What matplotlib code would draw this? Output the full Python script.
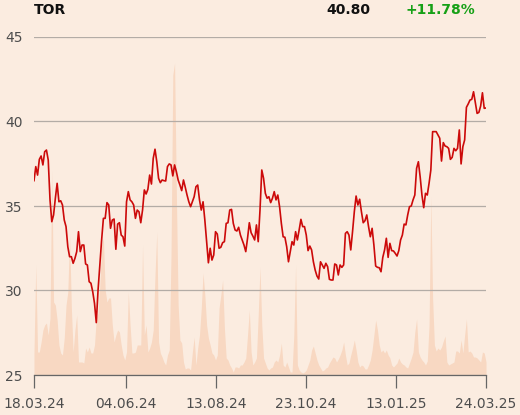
import numpy as np
import matplotlib
matplotlib.use("Agg")
import matplotlib.pyplot as plt

ticker = "TOR"
last_price = "40.80"
change = "+11.78%"

tick_labels = ["18.03.24", "04.06.24", "13.08.24", "23.10.24", "13.01.25", "24.03.25"]
tick_fracs = [0.0, 0.2035, 0.4027, 0.6018, 0.8009, 1.0]
y_ticks = [25, 30, 35, 40, 45]

price = [
    36.50, 37.33, 36.83, 37.76, 37.96, 37.43, 38.21, 38.31, 37.72, 35.36,
    34.07, 34.47, 35.46, 36.34, 35.25, 35.31, 35.06, 34.17, 33.78, 32.59,
    32.00, 32.00, 31.61, 31.90, 32.30, 33.48, 32.30, 32.69, 32.69, 31.57,
    31.51, 30.52, 30.43, 29.93, 29.24, 28.10, 30.03, 31.51, 32.99, 34.27,
    34.27, 35.20, 35.06, 33.68, 34.17, 34.23, 32.44, 33.93, 34.01, 33.28,
    33.18, 32.63,
    35.25, 35.85, 35.36, 35.25, 35.06, 34.27, 34.76, 34.66, 34.01, 34.76,
    35.95, 35.71, 35.99, 36.83, 36.30, 37.82, 38.36, 37.62, 36.64, 36.38,
    36.54, 36.50, 36.48, 37.33, 37.49, 37.43, 36.78, 37.43, 37.03, 36.54,
    36.24, 35.91, 36.54, 36.11, 35.65, 35.25, 34.96, 35.25, 35.55, 36.14,
    36.24, 35.36, 34.76, 35.25, 34.17, 32.89, 31.64, 32.50, 31.80,
    32.10, 33.48, 33.34, 32.50, 32.56, 32.83, 32.89, 33.97, 34.01, 34.76,
    34.80, 33.97, 33.58, 33.52, 33.74, 33.28, 32.99, 32.69, 32.30, 33.09,
    34.01, 33.42, 33.22, 32.99, 33.88, 32.89, 34.76, 37.13, 36.64, 35.75,
    35.46, 35.55, 35.20, 35.46, 35.85, 35.36, 35.65, 34.96, 33.97, 33.18,
    33.15, 32.59, 31.70, 32.30, 32.89, 32.69, 33.48, 32.99, 33.58, 34.21,
    33.78, 33.78,
    33.28, 32.36, 32.63, 32.40, 31.70, 31.21, 30.86, 30.68, 31.70, 31.51,
    31.31, 31.61, 31.41, 30.66, 30.62, 30.62, 31.57, 31.51, 30.92, 31.51,
    31.37, 31.51, 33.38, 33.48, 33.28, 32.40, 33.48, 34.66, 35.59, 35.06,
    35.40, 34.66, 34.01, 34.13, 34.47, 33.78, 33.18, 33.68, 32.69, 31.45,
    31.37, 31.35, 31.11, 31.96, 32.40, 33.09, 31.96, 32.79, 32.36, 32.34,
    32.20, 32.04, 32.36, 32.99,
    33.28, 33.93, 33.88, 34.47, 34.96, 35.00, 35.36, 35.65, 37.23, 37.62,
    36.73, 35.65, 34.90, 35.75, 35.65, 36.34, 37.13, 39.40, 39.40, 39.40,
    39.20, 39.01, 37.66, 38.75, 38.55, 38.51, 38.41, 37.76, 37.88, 38.41,
    38.27, 38.41, 39.50, 37.49, 38.51, 38.91, 40.84, 41.04, 41.27, 41.31,
    41.76, 41.11, 40.48, 40.54, 40.92, 41.70, 40.78, 40.80,
]

volume = [
    23, 110, 23, 23, 33, 45, 50, 52, 40, 57,
    205, 73, 70, 55, 30, 22, 20, 37, 70, 83,
    140, 67, 23, 45, 60, 13, 13, 13, 12, 27,
    23, 28, 22, 22, 30, 57, 62, 90, 130, 137,
    85, 73, 77, 77, 50, 33, 40, 45, 43, 30,
    20, 15, 23, 83, 50, 22, 22, 23, 30, 30,
    30, 130, 40, 50, 23, 27, 33, 45, 100, 143,
    33, 22, 18, 13, 10, 20, 25, 120, 300, 312,
    182, 70, 35, 32, 13, 6, 7, 7, 5, 23,
    38, 10, 27, 40, 67, 102, 80, 50, 37, 30,
    22, 20, 15, 20, 67, 80, 95, 47, 17, 15,
    10, 7, 3, 8, 8, 7, 10, 10, 13, 17,
    40, 65, 23, 10, 13, 17, 60, 108, 50, 17,
    12, 7, 5, 7, 8, 13, 15, 13, 20, 32,
    10, 8, 13, 8, 3, 3, 40, 110, 10, 5,
    3, 2, 3, 5, 10, 15, 25, 29, 22, 15,
    10, 7, 4, 5, 7, 8, 12, 15, 18, 17,
    13, 16, 20, 25, 33, 20, 10, 12, 20, 27,
    35, 25, 13, 8, 10, 9, 6, 6, 10, 15,
    25, 40, 55, 45, 30, 23, 25, 22, 25, 20,
    17, 10, 8, 10, 12, 17, 13, 11, 10, 8,
    7, 12, 17, 23, 43, 56, 23, 18, 15, 13,
    10, 14, 50, 178, 77, 30, 24, 27, 25, 28,
    34, 39, 13, 10, 11, 12, 13, 24, 24, 22,
    35, 22, 40, 56, 23, 24, 22, 18, 18, 17,
    15, 13, 23, 22, 13,
]

bg = "#fbece0"
line_red = "#cc0a0a"
vol_color = "#f8d8c2"
grid_col = "#b3aca6"
text_gray = "#4d4d4d"

fig = plt.figure(figsize=(5.2, 4.15), dpi=100, facecolor=bg)
ax = fig.add_axes([34 / 520, 1 - 375 / 415, 452 / 520, 338 / 415])
axv = ax.twinx()
ax.set_zorder(axv.get_zorder() + 1)
ax.patch.set_visible(False)
axv.patch.set_facecolor(bg)

n = len(price)
x_price = np.arange(n)
x_vol = np.arange(len(volume)) * (n - 1) / (len(volume) - 1)

axv.fill_between(x_vol, 0, volume, color=vol_color, linewidth=0)
axv.set_ylim(0, 338)
axv.set_yticks([])
for s in axv.spines.values():
    s.set_visible(False)

ax.plot(x_price, price, color=line_red, lw=1.2, solid_joinstyle="round")
ax.set_xlim(0, n - 1)
ax.set_ylim(25, 45)
ax.set_yticks(y_ticks)
ax.set_yticklabels([str(v) for v in y_ticks])
ax.grid(axis="y", color=grid_col, lw=0.9)
ax.tick_params(axis="y", length=0, pad=8, labelsize=10, labelcolor=text_gray)
ax.set_xticks([f * (n - 1) for f in tick_fracs])
ax.set_xticklabels(tick_labels)
ax.tick_params(axis="x", length=9, width=0.9, color="#666666", pad=7,
               labelsize=10, labelcolor=text_gray)
for k in ["top", "right", "left"]:
    ax.spines[k].set_visible(False)
ax.spines["bottom"].set_color("#666666")
ax.spines["bottom"].set_linewidth(0.9)

fig.text(34 / 520, 1 - 10 / 415, ticker, fontsize=10, fontweight="bold",
         color="#111111", ha="left", va="center")
fig.text(370 / 520, 1 - 10 / 415, last_price, fontsize=10, fontweight="bold",
         color="#111111", ha="right", va="center")
fig.text(475 / 520, 1 - 10 / 415, change, fontsize=10, fontweight="bold",
         color="#16a016", ha="right", va="center")

fig.savefig("out.png", dpi=100, facecolor=bg)
